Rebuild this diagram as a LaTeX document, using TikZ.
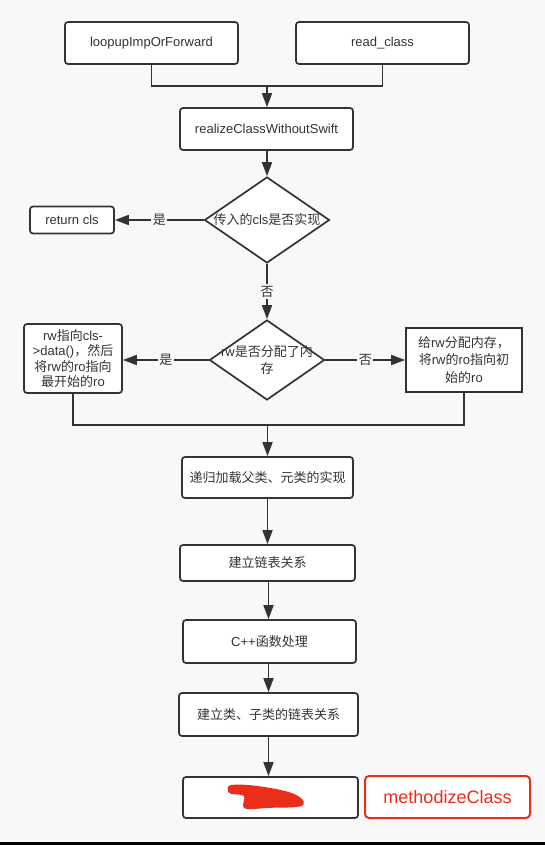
\documentclass[tikz,border=0pt]{standalone}
\usepackage{fontspec}
\setmainfont{Liberation Sans}
\newfontfamily\cjk{Noto Sans CJK SC}
\usetikzlibrary{shapes.geometric,arrows.meta}
\definecolor{bg}{HTML}{F8F8F8}
\definecolor{ink}{HTML}{333333}
\definecolor{redc}{HTML}{EA2E1A}
\newcommand\zh[1]{{\cjk #1}}
\begin{document}
\begin{tikzpicture}[x=1pt,y=-1pt,
  box/.style={draw=ink,line width=1.7pt,fill=white,rounded corners=3pt,inner sep=0pt,text=ink,font=\fontsize{13}{16}\selectfont,align=center},
  sqbox/.style={box,rounded corners=0pt},
  dia/.style={draw=ink,line width=1.7pt,fill=white,diamond,inner sep=0pt},
  txt/.style={text=ink,font=\fontsize{13}{17}\selectfont,align=center,inner sep=0pt},
  lbl/.style={fill=bg,text=ink,font=\fontsize{13}{16}\selectfont,inner sep=1.5pt},
  conn/.style={draw=ink,line width=1.7pt},
  arr/.style={conn,-{Triangle[length=14pt,width=10pt]}},
  redbox/.style={draw=redc,line width=2pt,fill=white,rounded corners=4pt,inner sep=0pt,text=redc,font=\fontsize{18}{20}\selectfont}
]
\fill[bg] (0,0) rectangle (545,845);
\fill[black] (0,842) rectangle (545,845);
\useasboundingbox (0,0) rectangle (545,845);

\node[box,minimum width=173pt,minimum height=42pt] (lp) at (151.5,43) {loopupImpOrForward};
\node[box,minimum width=173pt,minimum height=42pt] (rc) at (382.5,43) {read\_class};
\node[box,minimum width=173pt,minimum height=42pt] (rz) at (266.5,129) {realizeClassWithoutSwift};
\node[dia,minimum width=125pt,minimum height=86pt] (d1) at (267,220) {};
\node[txt] (d1t) at (d1.center) {\zh{传入的}cls\zh{是否实现}};
\node[box,minimum width=84pt,minimum height=27pt] (ret) at (72,220) {return cls};
\node[dia,minimum width=115pt,minimum height=80pt] (d2) at (267,360) {};
\node[txt] (d2t) at (d2.center) {rw\zh{是否分配了内}\\\zh{存}};
\node[box,minimum width=98pt,minimum height=69pt,font=\fontsize{13}{15.5}\selectfont] (lb) at (73,358.5) {rw\zh{指向}cls-\\>data()\zh{，然后}\\\zh{将}rw\zh{的}ro\zh{指向}\\\zh{最开始的}ro};
\node[sqbox,minimum width=116pt,minimum height=64pt,font=\fontsize{13}{17.5}\selectfont] (rb) at (464,360) {\zh{给}rw\zh{分配内存，}\\\zh{将}rw\zh{的}ro\zh{指向初}\\\zh{始的}ro};
\node[box,minimum width=171pt,minimum height=41pt] (b1) at (267.5,477.5) {\zh{递归加载父类、元类的实现}};
\node[box,minimum width=175pt,minimum height=36pt] (b2) at (267.5,563) {\zh{建立链表关系}};
\node[box,minimum width=173pt,minimum height=43pt] (b3) at (269.5,641.5) {C++\zh{函数处理}};
\node[box,minimum width=179pt,minimum height=43pt] (b4) at (268.5,714.5) {\zh{建立类、子类的链表关系}};
\node[box,minimum width=175pt,minimum height=41pt] (b5) at (270.5,797.5) {};
\node[redbox,minimum width=165pt,minimum height=42pt] (mc) at (447.5,797) {methodizeClass};

% red scribble
\fill[redc] plot[smooth cycle,tension=0.6] coordinates {(227.7,790) (231,785) (251.4,785.3) (278.4,789.5) (295.3,794.5) (303.7,801.5) (298.6,806.7) (270,807.8) (244.6,808.3) (244,796) (231,794)};

% connectors
\coordinate (m1) at (lp.south |- 0,86);
\coordinate (m2) at (rc.south |- 0,86);
\coordinate (m0) at (267,86);
\draw[conn] (lp.south) -- (m1) -- (m2) -- (rc.south);
\draw[arr] (m0) -- (m0 |- rz.north);
\draw[arr] (d1.north |- rz.south) -- (d1.north);
\draw[arr] (d1.west) -- node[lbl] {\zh{是}} (ret.east);
\draw[arr] (d1.south) -- node[lbl] {\zh{否}} (d2.north);
\draw[arr] (d2.west) -- node[lbl] {\zh{是}} (lb.east |- d2.west);
\draw[arr] (d2.east) -- node[lbl] {\zh{否}} (rb.west |- d2.east);
\coordinate (n1) at (lb.south |- 0,425);
\coordinate (n2) at (rb.south |- 0,425);
\coordinate (n0) at (267.5,425);
\draw[conn] (lb.south) -- (n1) -- (n2) -- (rb.south);
\draw[arr] (n0) -- (n0 |- b1.north);
\coordinate (c1) at (267.5,0);
\coordinate (c2) at (268.5,0);
\draw[arr] (c1 |- b1.south) -- (c1 |- b2.north);
\draw[arr] (c2 |- b2.south) -- (c2 |- b3.north);
\draw[arr] (c2 |- b3.south) -- (c2 |- b4.north);
\draw[arr] (c2 |- b4.south) -- (c2 |- b5.north);
\end{tikzpicture}
\end{document}
